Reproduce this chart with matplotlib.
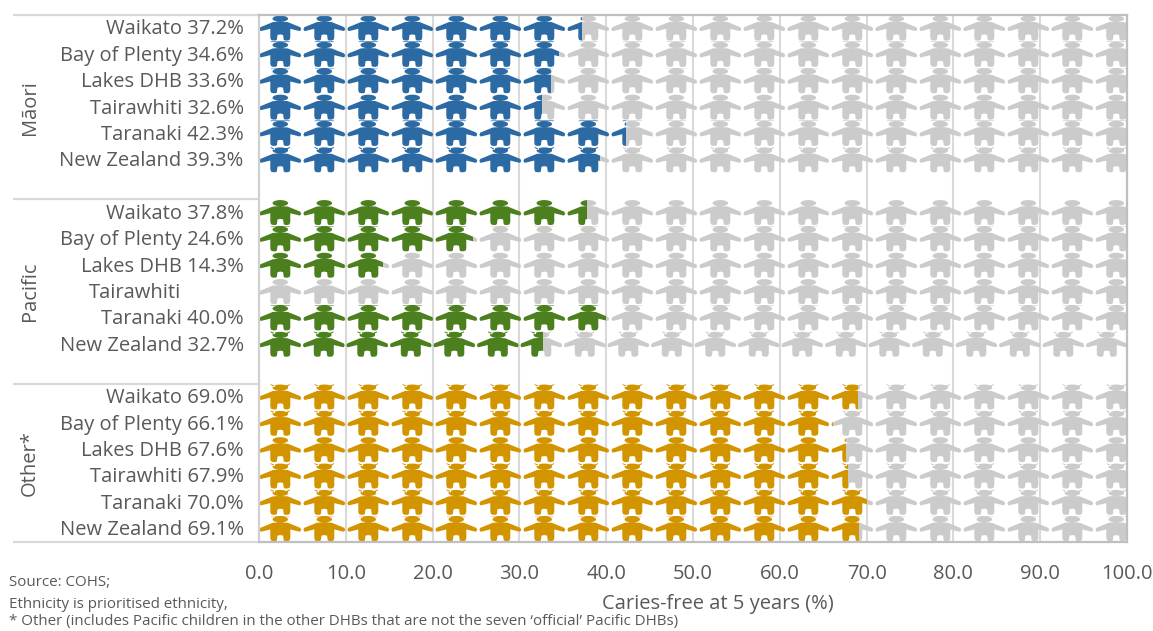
import numpy as np
import matplotlib
matplotlib.use("Agg")
import matplotlib.pyplot as plt
from matplotlib.path import Path
from matplotlib.patches import PathPatch, Rectangle
from matplotlib.transforms import Affine2D

plt.rcParams['font.family'] = ['Open Sans', 'DejaVu Sans']

W, H = 1153, 631
regions = ["Waikato", "Bay of Plenty", "Lakes DHB", "Tairawhiti", "Taranaki", "New Zealand"]
groups = ["Māori", "Pacific", "Other*"]
maori = [37.2, 34.6, 33.6, 32.6, 42.3, 39.3]
pacific = [37.8, 24.6, 14.3, np.nan, 40.0, 32.7]
other = [69.0, 66.1, 67.6, 67.9, 70.0, 69.1]
colors = ["#2C6AA3", "#4C7F1E", "#D29500"]
gray = "#CBCBCB"
text_c = "#595959"
xticks = [0, 10, 20, 30, 40, 50, 60, 70, 80, 90, 100]
footnotes = ["Source: COHS;", "Ethnicity is prioritised ethnicity,",
             "* Other (includes Pacific children in the other DHBs that are not the seven ‘official’ Pacific DHBs)"]

L, R, T, B = 259, 1127, 15, 542
fig = plt.figure(figsize=(W / 100, H / 100), dpi=100, facecolor="white")
ax = fig.add_axes([L / W, 1 - B / H, (R - L) / W, (B - T) / H])
ax.set_xlim(0, 100)
ax.set_ylim(19.5, -0.5)

# icon glyph in pixel offsets from icon centre / row top
px_x = (R - L) / 100
cell_h = (B - T) / 20
half = [(3.0, 6.8), (7.5, 7.1), (20.0, 12.2), (20.9, 14.2), (19.9, 16.0), (18.6, 15.9),
        (10.0, 13.8), (10.0, 22.5), (9.3, 24.8), (7.4, 25.5), (4.6, 25.5), (3.4, 24.6),
        (2.8, 20.0), (0.0, 19.4)]
outline = half + [(-x, y) for x, y in reversed(half[:-1])]
body = np.array(outline + [outline[0]])
theta = np.linspace(0, 2 * np.pi, 25)
head = np.column_stack([7.8 * np.cos(theta), 3.7 + 3.1 * np.sin(theta)])
line_top = np.array([(-9.5, 0.0), (9.5, 0.0), (9.5, 0.7), (-9.5, 0.7), (-9.5, 0.0)])
ear_r = np.array([(5.0, 2.0), (9.8, 0.2), (9.8, 1.0), (6.0, 3.2), (5.0, 2.0)])
ear_l = ear_r * np.array([-1, 1])
# sprite-tiling artefact at the top of each row: 0 none, 1 thin line, 2 ears
row_artefact = [0, 1, 1, 0, 1, 2, 0,
                0, 1, 0, 0, 1, 2, 0,
                2, 2, 0, 2, 2, 1]
row_period = {12: 43.5}


def row_path(r):
    parts = []
    shapes = [body, head]
    if row_artefact[r] == 1:
        shapes = shapes + [line_top]
    elif row_artefact[r] == 2:
        shapes = shapes + [ear_l, ear_r]
    period = row_period.get(r, 44.0)
    for k in range(20):
        cx = 21.3 + k * period
        for shape in shapes:
            pts = np.column_stack([(cx + shape[:, 0]) / px_x,
                                   r - 0.5 + shape[:, 1] / cell_h])
            parts.append(Path(pts, closed=True))
    return Path.make_compound_path(*parts)


group_centres = [3.0, 10.0, 16.5]
yticks, ylabels, pads = [], [], []
for g, (name, vals, col) in enumerate(zip(groups, [maori, pacific, other], colors)):
    for i, (reg, v) in enumerate(zip(regions, vals)):
        r = g * 7 + i
        yticks.append(r)
        has = not np.isnan(v)
        ylabels.append(f"{reg} {v:.1f}%" if has else reg)
        pads.append(11 if has else 56)
        fill = v if has else 0
        path = row_path(r)
        grey_patch = PathPatch(path, fc=gray, ec="none", lw=0, transform=ax.transData, zorder=3)
        ax.add_patch(grey_patch)
        grey_patch.set_clip_path(Rectangle((fill, r - 0.5), 100 - fill, 1, transform=ax.transData))
        if has:
            patch = PathPatch(path, fc=col, ec="none", lw=0, transform=ax.transData, zorder=4)
            ax.add_patch(patch)
            patch.set_clip_path(Rectangle((0, r - 0.5), v, 1, transform=ax.transData))
    ax.text(-26.4, group_centres[g], name, rotation=90, ha="center", va="center",
            color=text_c, fontsize=14.5)

ax.set_xticks(xticks)
ax.set_xticklabels([f"{x:.1f}" for x in xticks], color=text_c, fontsize=14.5)
ax.set_yticks(yticks)
ax.set_yticklabels(ylabels, color=text_c, fontsize=14.5)
ax.tick_params(axis="both", length=0)
ax.tick_params(axis="x", pad=16)
for tick, pad in zip(ax.yaxis.get_major_ticks(), pads):
    tick.set_pad(pad)
    tick.label1.set_transform(tick.label1.get_transform() + Affine2D().translate(0, 1.2))

ax.set_axisbelow(True)
ax.grid(axis="x", color="#D9D9D9", lw=1.5)
ax.grid(axis="y", visible=False)
for side in ax.spines:
    ax.spines[side].set_color("#BFBFBF")
    ax.spines[side].set_linewidth(1.6)
    ax.spines[side].set_zorder(5)
ax.spines["left"].set_color("#D0D0D0")

for r in (-0.5, 6.5, 13.5, 19.5):
    ax.plot([-28.3, 0], [r, r], color="#D9D9D9", lw=1.6, clip_on=False, solid_capstyle="butt", zorder=5)

fig.text(718 / W, 1 - 604 / H, "Caries-free at 5 years (%)", ha="center", va="center",
         color=text_c, fontsize=14.5)
for s, y in zip(footnotes, [583, 604, 622]):
    fig.text(9 / W, 1 - y / H, s, ha="left", va="center", color=text_c, fontsize=10.9)

fig.savefig("out.png", dpi=100, facecolor="white")
